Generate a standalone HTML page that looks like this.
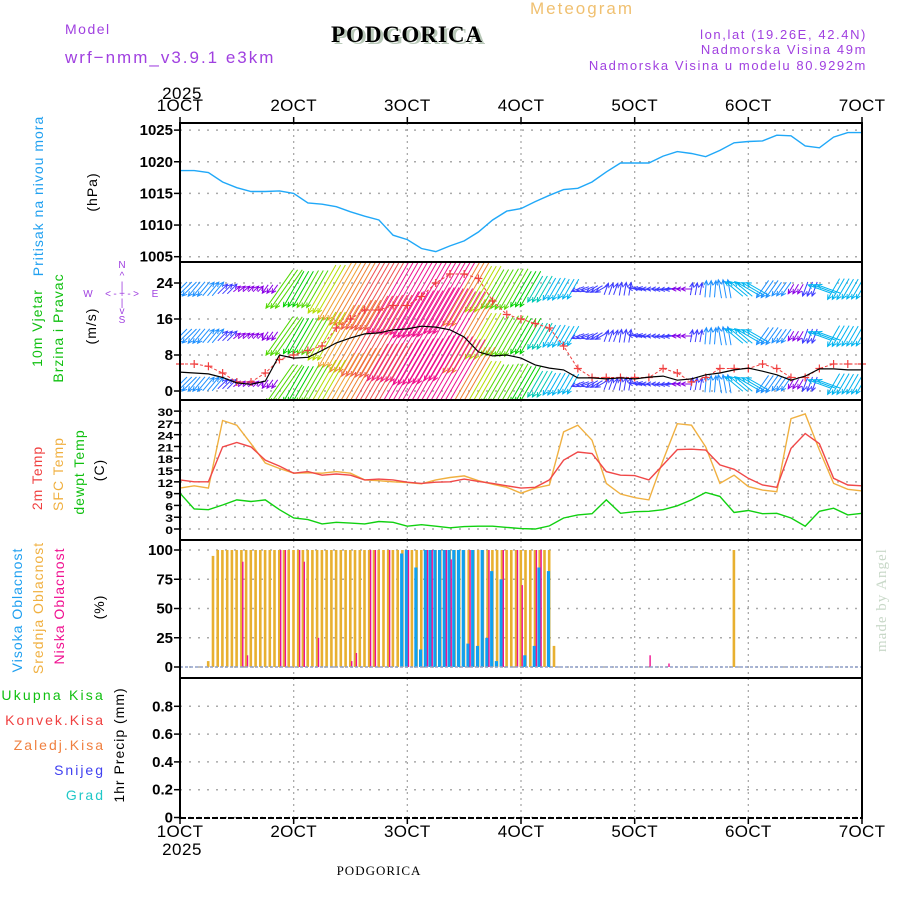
<!DOCTYPE html>
<html><head><meta charset="utf-8"><style>
html,body{margin:0;padding:0;background:#fff;width:900px;height:900px;overflow:hidden}
svg{display:block;font-family:"Liberation Sans",sans-serif}
</style></head><body>
<svg id="chart" width="900" height="900" viewBox="0 0 900 900" xmlns="http://www.w3.org/2000/svg">
<rect width="900" height="900" fill="#fff"/>
<text x="65" y="34" font-size="14" fill="#a040e0" letter-spacing="1.5">Model</text>
<text x="65" y="63" font-size="17" fill="#a040e0" letter-spacing="2">wrf−nmm_v3.9.1 e3km</text>
<text x="410" y="44" font-size="23" font-weight="bold" font-family="Liberation Serif,serif" fill="#b8c8b8" text-anchor="middle" letter-spacing="1">PODGORICA</text>
<text x="407" y="42" font-size="23" font-weight="bold" font-family="Liberation Serif,serif" fill="#000" text-anchor="middle" letter-spacing="1">PODGORICA</text>
<text x="582" y="14" font-size="17" fill="#f0c070" text-anchor="middle" letter-spacing="2">Meteogram</text>
<text x="867" y="39" font-size="13" fill="#a040e0" text-anchor="end" letter-spacing="1.6">lon,lat (19.26E, 42.4N)</text>
<text x="867" y="54" font-size="13" fill="#a040e0" text-anchor="end" letter-spacing="1.6">Nadmorska Visina 49m</text>
<text x="867" y="70" font-size="13" fill="#a040e0" text-anchor="end" letter-spacing="1.6">Nadmorska Visina u modelu 80.9292m</text>
<text x="182" y="99" font-size="17" text-anchor="middle" letter-spacing="0.5">2025</text>
<text x="182" y="855" font-size="17" text-anchor="middle" letter-spacing="0.5">2025</text>
<text x="379" y="875" font-size="13" font-family="Liberation Serif,serif" fill="#000" text-anchor="middle" letter-spacing="1">PODGORICA</text>
<text transform="translate(886,652) rotate(-90)" font-size="15" font-family="Liberation Serif,serif" fill="#c8d8c8" letter-spacing="1">made by Angel</text>

<g font-size="14" letter-spacing="1">
<text transform="translate(43,196) rotate(-90)" text-anchor="middle" fill="#20a0f0">Pritisak na nivou mora</text>
<text transform="translate(97,192) rotate(-90)" text-anchor="middle" fill="#000">(hPa)</text>
<text transform="translate(42,328) rotate(-90)" text-anchor="middle" fill="#10c010">10m Vjetar</text>
<text transform="translate(63,328) rotate(-90)" text-anchor="middle" fill="#10c010">Brzina i Pravac</text>
<text transform="translate(96,326) rotate(-90)" text-anchor="middle" fill="#000">(m/s)</text>
<text transform="translate(42,478) rotate(-90)" text-anchor="middle" fill="#f04040">2m Temp</text>
<text transform="translate(63,474) rotate(-90)" text-anchor="middle" fill="#f0b040">SFC Temp</text>
<text transform="translate(84,472) rotate(-90)" text-anchor="middle" fill="#10c010">dewpt Temp</text>
<text transform="translate(104,470) rotate(-90)" text-anchor="middle" fill="#000">(C)</text>
<text transform="translate(22,610) rotate(-90)" text-anchor="middle" fill="#20a0f0">Visoka Oblacnost</text>
<text transform="translate(43,608) rotate(-90)" text-anchor="middle" fill="#f0b040">Srednja Oblacnost</text>
<text transform="translate(64,606) rotate(-90)" text-anchor="middle" fill="#f01090">Niska Oblacnost</text>
<text transform="translate(104,607) rotate(-90)" text-anchor="middle" fill="#000">(%)</text>
<text transform="translate(124,745) rotate(-90)" text-anchor="middle" fill="#000">1hr Precip (mm)</text>
<text x="105" y="700" text-anchor="end" fill="#10c010" letter-spacing="2.2">Ukupna Kisa</text>
<text x="105" y="725" text-anchor="end" fill="#f04040" letter-spacing="2">Konvek.Kisa</text>
<text x="105" y="750" text-anchor="end" fill="#f08040" letter-spacing="2">Zaledj.Kisa</text>
<text x="105" y="775" text-anchor="end" fill="#4040f0" letter-spacing="2">Snijeg</text>
<text x="105" y="800" text-anchor="end" fill="#20c8c8" letter-spacing="2">Grad</text>
</g>
<g fill="#a040e0" font-size="10" text-anchor="middle">
<text x="122" y="268">N</text><text x="122" y="279">^</text><text x="122" y="289">|</text>
<text x="88" y="297">W</text><text x="108" y="297">&lt;</text><text x="115" y="297">-</text><text x="122" y="297">+</text><text x="129" y="297">-</text><text x="136" y="297">&gt;</text><text x="155" y="297">E</text>
<text x="122" y="306">|</text><text x="122" y="314">v</text><text x="122" y="323">S</text>
</g>
<g id="plot"></g>
</svg>
<script>
const dayLabels = ["1OCT","2OCT","3OCT","4OCT","5OCT","6OCT","7OCT"];
const pressure = [1018.6,1018.6,1018.3,1016.8,1015.9,1015.3,1015.3,1015.4,1015.0,1013.5,1013.3,1012.9,1012.1,1011.4,1010.8,1008.4,1007.7,1006.3,1005.8,1006.7,1007.5,1008.9,1010.8,1012.2,1012.6,1013.7,1014.7,1015.6,1015.8,1016.8,1018.4,1019.8,1019.8,1019.8,1020.9,1021.6,1021.3,1020.8,1021.8,1023.0,1023.2,1023.3,1024.2,1024.1,1022.5,1022.2,1023.9,1024.6,1024.6];
const windSpeed = [4.2,4.0,3.8,3.0,1.8,1.5,2.2,8.0,7.3,7.5,9.0,10.7,11.8,12.7,12.9,13.6,13.8,14.4,14.2,13.6,12.0,8.7,7.8,8.0,7.3,5.8,5.1,4.7,2.9,2.9,2.7,2.9,2.7,3.1,3.3,2.4,2.7,3.6,4.0,4.7,5.1,4.4,3.6,2.4,3.3,4.9,4.9,4.7,4.7];
const windGust = [6,6,5.5,4,2,2,4,7,8,9,10,14,16,18,18,19,19,21,24,26,26,25,20,17,16,15,14,10,5,3,3,3,3,3,5,4,2,3,5,5,5,6,5,3,3,5,6,6,6];
const windDir = [225,220,40,45,50,45,215,215,210,210,210,210,210,210,210,210,210,210,210,210,210,210,210,210,210,210,210,210,250,240,20,10,280,270,265,270,10,5,350,310,300,215,215,210,200,290,210,210,210];
const temp2m = [12.5,12.0,12.0,20.9,22.0,20.9,17.5,16.0,14.2,14.6,13.7,14.0,13.7,12.5,12.7,12.5,11.9,11.6,11.9,12.0,12.7,12.1,11.6,11.0,10.4,10.6,12.5,17.5,19.6,19.2,14.6,13.7,13.6,12.5,16.3,20.2,20.3,20.1,16.3,15.2,12.9,11.2,10.6,20.5,24.3,21.7,12.9,11.2,11.0];
const tempSfc = [10.4,11.0,10.4,27.6,26.4,21.7,16.8,15.4,14.2,14.3,14.2,14.6,14.2,12.5,12.3,12.0,11.8,11.5,12.5,13.1,13.5,12.3,11.4,10.6,9.1,10.4,11.2,24.7,26.4,22.6,11.6,8.9,8.0,7.4,17.5,26.8,26.4,20.9,11.6,13.7,10.8,9.9,9.5,28.1,29.3,20.1,11.6,10.1,9.7];
const dewpoint = [9.1,5.1,4.9,6.1,7.4,7.0,7.4,4.9,2.8,2.4,1.3,1.7,1.5,1.3,1.9,1.7,0.7,1.1,0.7,0.3,0.6,0.7,0.7,0.4,0.1,0.0,0.8,2.8,3.6,3.9,7.4,4.0,4.4,4.5,4.9,5.9,7.4,9.3,8.3,4.2,4.7,3.9,4.0,2.8,0.7,4.5,5.3,3.6,4.0];
const cloudMid = [0,0,0,0,0,0,5,95,
100,100,100,100,100,100,100,100,100,100,
100,100,100,100,100,100,100,100,100,100,
100,100,100,100,100,100,100,100,100,100,
100,100,100,100,100,100,100,100,100,100,
100,100,100,100,100,100,100,100,100,100,
100,100,100,100,100,100,100,100,100,100,
100,100,100,100,100,100,100,100,100,100,
100,18,
0,0,0,0,0,0,0,0,0,0,0,0,0,0,0,0,0,0,0,0,0,0,0,0,0,0,0,0,0,0,0,0,0,0,0,0,0,
100,
0,0,0,0,0,0,0,0,0,0,0,0,0,0,0,0,0,0,0,0,0,0,0,0,0,0,0];
const cloudHigh = [0,0,0,0,0,0,0,0,0,0,0,0,0,0,0,0,0,0,0,0,0,0,0,0,0,0,0,0,0,0,0,0,0,0,0,0,0,0,0,0,0,0,0,0,0,0,0,97,100,0,85,15,100,100,100,100,100,100,100,100,100,20,100,18,100,25,82,5,75,0,0,0,0,10,0,18,85,0,82,0,0,0,0,0,0,0,0,0,0,0,0,0,0,0,0,0,0,0,0,0,0,0,0,0,0,0,0,0,0,0,0,0,0,0,0,0,0,0,0,0,0,0,0,0,0,0,0,0,0,0,0,0,0,0,0,0,0,0,0,0,0,0,0];
const cloudLow = [0,0,0,0,0,0,0,0,0,0,0,0,0,90,10,0,0,0,0,0,0,100,100,0,0,100,90,0,0,25,0,0,0,0,0,0,5,12,0,0,100,100,0,0,100,0,0,0,100,0,0,0,100,100,0,0,100,92,0,0,0,100,0,0,0,100,0,0,100,0,0,100,70,0,0,100,100,0,0,0,0,0,0,0,0,0,0,0,0,0,0,0,0,0,0,0,0,0,0,10,0,0,0,3,0,0,0,0,0,0,0,0,0,0,0,0,0,0,0,0,0,0,0,0,0,0,0,0,0,0,0,0,0,0,0,0,0,0,0,0,0];
const pTicks = [1005,1010,1015,1020,1025];
const wTicks = [0,8,16,24];
const tTicks = [0,3,6,9,12,15,18,21,24,27,30];
const cTicks = [0,25,50,75,100];
const rTicks = [0,0.2,0.4,0.6,0.8];

const X0=180,X1=862;
const xs = t => X0 + t*(X1-X0)/144;
const yP = p => 256.7 - (p-1005)*6.33;
const yW = v => 391 - v*4.5;
const yT = v => 529 - v*3.93;
const yC = v => 667 - v*1.17;
const yR = v => 817.5 - v*139;
const NS="http://www.w3.org/2000/svg";
const plot=document.getElementById('plot');
function el(tag,attrs,parent){const e=document.createElementNS(NS,tag);for(const k in attrs)e.setAttribute(k,attrs[k]);(parent||plot).appendChild(e);return e;}
const panels=[{top:123,bot:262,f:yP,ticks:pTicks,name:'pressure'},{top:262,bot:400,f:yW,ticks:wTicks,name:'wind'},{top:400,bot:540,f:yT,ticks:tTicks,name:'temp'},{top:540,bot:678,f:yC,ticks:cTicks,name:'cloud'},{top:678,bot:818,f:yR,ticks:rTicks,name:'precip'}];
panels.forEach((p,i)=>{
  const g=el('g',{});
  
  
  for(let d=1;d<6;d++) el('line',{x1:xs(d*24),x2:xs(d*24),y1:p.top,y2:p.bot,stroke:'#aaa','stroke-width':1.3,'stroke-dasharray':'2,4'},g);
  p.ticks.forEach(v=>{
    const y=p.f(v);
    el('line',{x1:X0,x2:X1,y1:y,y2:y,stroke:'#aaa','stroke-width':1.5,'stroke-dasharray':'2,7'},g);
    el('line',{x1:X0-6,x2:X0,y1:y,y2:y,stroke:'#000','stroke-width':1.5},g);
    const t=el('text',{x:X0-7,y:y+5,'font-size':p.name==='temp'?14:15,'font-weight':'bold','text-anchor':'end'},g);
    if(p.name==='temp'){t.setAttribute('transform',`translate(${X0-7},${y+5}) scale(1,0.8) translate(${-(X0-7)},${-(y+5)})`);}
    
    
    t.textContent = p.name==='precip'? (v===0?'0':v.toFixed(1)) : v;
  });
});
const defs=el('defs',{});
const cp=el('clipPath',{id:'wclip'},defs);
el('rect',{x:X0,y:262,width:X1-X0,height:138},cp);

function line(arr,f,color,name,w){
  const pts=arr.map((v,i)=>xs(i*3).toFixed(1)+','+f(v).toFixed(1)).join(' ');
  const pl=el('polyline',{points:pts,fill:'none',stroke:color,'stroke-width':w||1.4});
  
  
  return pl;
}
line(pressure,yP,'#20a8f8','pressure-line');

function wcol(v){
  const c=['#8a00e6','#3c3cff','#1e90ff','#00b4f0','#00c8b4','#00d000','#50d800','#b4dc00','#f0c800','#f0a030','#f08030','#f05050','#f0108c'];
  const i=Math.max(0,Math.min(c.length-1,Math.floor(v-1.5)));return c[i];
}
const wg=el('g',{'clip-path':'url(#wclip)'});


[289,336,384].forEach(ry=>{
  windSpeed.forEach((v,i)=>{
    for(let s=0;s<3;s++){
      const t=i*3+s; if(t>144) continue;
      const L=1.5*Math.pow(v,1.6)+5;
      const a=windDir[i]*Math.PI/180;
      const dx=Math.sin(a)*L, dy=-Math.cos(a)*L;
      const cx=xs(t), hx=cx+dx/2, hy=ry+dy/2, tx=cx-dx/2, ty=ry-dy/2;
      const col=wcol(v);
      const ar=el('path',{d:`M${tx.toFixed(1)},${ty.toFixed(1)}L${hx.toFixed(1)},${hy.toFixed(1)}`+
        `M${(hx-Math.sin(a-0.45)*5).toFixed(1)},${(hy+Math.cos(a-0.45)*5).toFixed(1)}L${hx.toFixed(1)},${hy.toFixed(1)}L${(hx-Math.sin(a+0.45)*5).toFixed(1)},${(hy+Math.cos(a+0.45)*5).toFixed(1)}`,
        stroke:col,'stroke-width':1,fill:'none'},wg);
      
      
    }
  });
});
const gl=line(windGust,yW,'#f04040','wind-gust-line',1);
gl.setAttribute('stroke-dasharray','3,2');
windGust.forEach((v,i)=>{
  const x=xs(i*3),y=yW(v);
  const c=el('path',{d:`M${x-4},${y}h8M${x},${y-4}v8`,stroke:'#f04040','stroke-width':1.2});
  
  
});
line(windSpeed,yW,'#000','wind-speed-line',1.2);

line(dewpoint,yT,'#10d010','dewpoint-line');
line(tempSfc,yT,'#f0b040','sfc-temp-line');
line(temp2m,yT,'#f04848','temp-2m-line');

function bars(arr,color,off,w,name){
  arr.forEach((v,t)=>{
    if(v<=0) return;
    const r=el('rect',{x:(xs(t)+off).toFixed(1),y:yC(v).toFixed(1),width:w,height:(yC(0)-yC(v)).toFixed(1),fill:color});
    
    
  });
}
bars(cloudMid,'#e8b030',-1.5,2.6,'mid-cloud-bar');
bars(cloudHigh,'#10a0f0',-2.5,3.2,'high-cloud-bar');
bars(cloudLow,'#f01090',0.5,1.4,'low-cloud-bar');
el('line',{x1:X0,x2:X1,y1:yC(0),y2:yC(0),stroke:'#90a0c8','stroke-width':1.5,'stroke-dasharray':'3,2'});

const fr=el('g',{});


el('line',{x1:X0,x2:X1,y1:123,y2:123,stroke:'#000','stroke-width':2},fr);
[262,400,540,678].forEach(y=>el('line',{x1:X0,x2:X1,y1:y,y2:y,stroke:'#000','stroke-width':2},fr));
el('line',{x1:X0,x2:X1,y1:818,y2:818,stroke:'#000','stroke-width':2,'stroke-dasharray':'6,2'},fr);
el('line',{x1:X0,x2:X0,y1:122,y2:819,stroke:'#000','stroke-width':2},fr);
el('line',{x1:X1,x2:X1,y1:122,y2:819,stroke:'#000','stroke-width':2},fr);
dayLabels.forEach((lab,d)=>{
  const x=xs(d*24);
  el('line',{x1:x,x2:x,y1:117,y2:123,stroke:'#000','stroke-width':1.5},fr);
  el('line',{x1:x,x2:x,y1:818,y2:824,stroke:'#000','stroke-width':1.5},fr);
  [111,837].forEach(y=>{
    const t=el('text',{x:x,y:y,'font-size':17,'text-anchor':'middle','letter-spacing':'0.3'},fr);
    
    
    t.textContent=lab;
  });
});
</script>
</body></html>
